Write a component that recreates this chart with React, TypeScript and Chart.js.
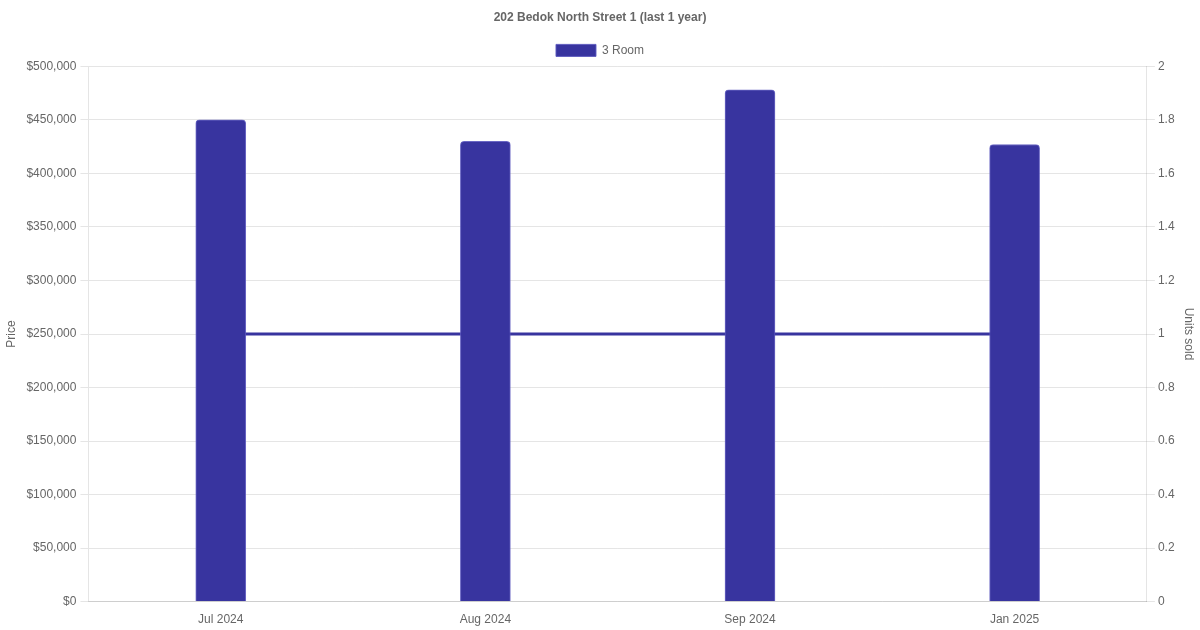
import React, { useEffect, useRef } from "react";
import Chart from "chart.js/auto";

const months = ["Jul 2024", "Aug 2024", "Sep 2024", "Jan 2025"];
const prices = [450000, 430000, 478000, 427000];
const unitsSold = [1, 1, 1, 1];

const BAR_COLOR = "#38349f";

const App = () => {
  const chartRef = useRef<HTMLCanvasElement | null>(null);

  useEffect(() => {
    document.body.style.margin = "0";
    const ctx = chartRef.current!.getContext("2d")!;
    Chart.defaults.font.family = "'Liberation Sans', Arial, sans-serif";
    Chart.defaults.color = "#666";

    const myChart = new Chart(ctx, {
      type: "bar",
      data: {
        labels: months,
        datasets: [
          {
            type: "bar",
            label: "3 Room",
            data: prices,
            backgroundColor: BAR_COLOR,
            borderColor: "rgba(90, 86, 190, 0.9)",
            borderWidth: 1,
            borderRadius: 4,
            borderSkipped: "bottom",
            barThickness: 50,
            yAxisID: "y",
          },
          {
            type: "line",
            label: "Units",
            data: unitsSold,
            borderColor: BAR_COLOR,
            borderWidth: 3,
            pointRadius: 0,
            fill: false,
            yAxisID: "y1",
          },
        ],
      },
      options: {
        animation: false,
        responsive: false,
        plugins: {
          title: {
            display: true,
            text: "202 Bedok North Street 1 (last 1 year)",
            font: { size: 12, weight: "bold" },
            padding: { top: 10, bottom: 10 },
          },
          legend: {
            labels: {
              boxWidth: 40,
              boxHeight: 12,
              font: { size: 12 },
              filter: (item) => item.text === "3 Room",
            },
          },
          tooltip: { enabled: false },
        },
        scales: {
          x: {
            grid: { display: false },
            ticks: { font: { size: 12 } },
          },
          y: {
            position: "left",
            min: 0,
            max: 500000,
            ticks: {
              stepSize: 50000,
              padding: 4,
              font: { size: 12 },
              callback: (v) => "$" + Number(v).toLocaleString("en-US"),
            },
            title: { display: true, text: "Price", font: { size: 12 } },
          },
          y1: {
            position: "right",
            min: 0,
            max: 2,
            ticks: {
              stepSize: 0.2,
              font: { size: 12 },
              callback: (v) => String(Math.round(Number(v) * 10) / 10),
            },
            grid: { drawOnChartArea: false },
            title: { display: true, text: "Units sold", font: { size: 12 } },
          },
        },
      },
    });

    return () => {
      myChart.destroy();
    };
  }, []);

  return (
    <div>
      <canvas ref={chartRef} width="1200" height="630"></canvas>
    </div>
  );
};

export default App;
